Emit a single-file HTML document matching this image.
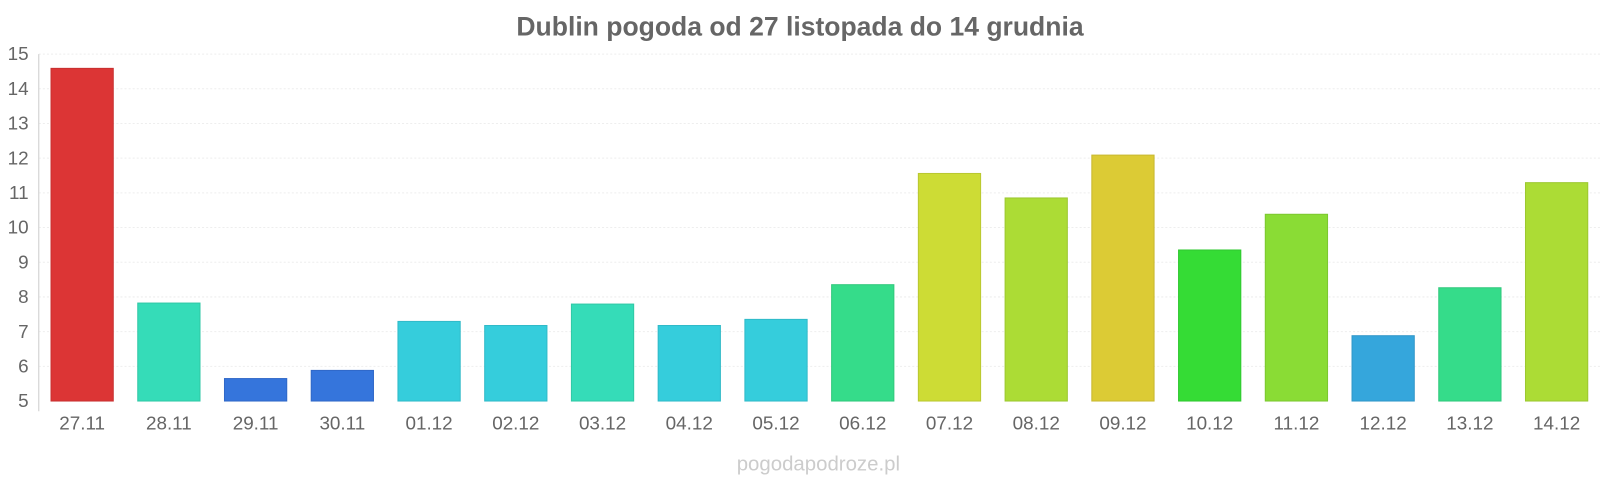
<!DOCTYPE html>
<html><head><meta charset="utf-8"><style>
body{margin:0;background:#fff;overflow:hidden}
svg text{font-family:"Liberation Sans",sans-serif}
</style></head><body>
<svg width="1600" height="480" xmlns="http://www.w3.org/2000/svg">
<g transform="scale(1.0204)">
<text x="784" y="35" text-anchor="middle" font-size="26" font-weight="bold" fill="#666">Dublin pogoda od 27 listopada do 14 grudnia</text>
<g stroke="#eee" stroke-dasharray="2,2" stroke-width="1">
<line x1="38" x2="1568" y1="53" y2="53"/><line x1="38" x2="1568" y1="87" y2="87"/>
<line x1="38" x2="1568" y1="121" y2="121"/><line x1="38" x2="1568" y1="155" y2="155"/>
<line x1="38" x2="1568" y1="189" y2="189"/><line x1="38" x2="1568" y1="223" y2="223"/>
<line x1="38" x2="1568" y1="257" y2="257"/><line x1="38" x2="1568" y1="291" y2="291"/>
<line x1="38" x2="1568" y1="325" y2="325"/><line x1="38" x2="1568" y1="359" y2="359"/>
</g>
<line x1="38" x2="38" y1="53" y2="403" stroke="#ccc"/>
<g font-size="18.5" fill="#666" text-anchor="end">
<text x="28" y="59">15</text><text x="28" y="93">14</text><text x="28" y="127">13</text>
<text x="28" y="161">12</text><text x="28" y="195">11</text><text x="28" y="229">10</text>
<text x="28" y="263">9</text><text x="28" y="297">8</text><text x="28" y="331">7</text>
<text x="28" y="365">6</text><text x="28" y="399">5</text>
</g>
<g stroke-width="1">
<rect x="50" y="67" width="61" height="326" fill="#dc3535" stroke="#c83030"/>
<rect x="135" y="297" width="61" height="96" fill="#35dcb8" stroke="#30c8a6"/>
<rect x="220" y="371" width="61" height="22" fill="#3575dc" stroke="#3068c8"/>
<rect x="305" y="363" width="61" height="30" fill="#3575dc" stroke="#3068c8"/>
<rect x="390" y="315" width="61" height="78" fill="#35cddc" stroke="#30bac8"/>
<rect x="475" y="319" width="61" height="74" fill="#35cddc" stroke="#30bac8"/>
<rect x="560" y="298" width="61" height="95" fill="#35dcb8" stroke="#30c8a6"/>
<rect x="645" y="319" width="61" height="74" fill="#35cddc" stroke="#30bac8"/>
<rect x="730" y="313" width="61" height="80" fill="#35cddc" stroke="#30bac8"/>
<rect x="815" y="279" width="61" height="114" fill="#35dc8a" stroke="#30c87c"/>
<rect x="900" y="170" width="61" height="223" fill="#cddc35" stroke="#bac830"/>
<rect x="985" y="194" width="61" height="199" fill="#acdc35" stroke="#9cc830"/>
<rect x="1070" y="152" width="61" height="241" fill="#dccb35" stroke="#c8b830"/>
<rect x="1155" y="245" width="61" height="148" fill="#35dc35" stroke="#30c830"/>
<rect x="1240" y="210" width="61" height="183" fill="#8adc35" stroke="#7cc830"/>
<rect x="1325" y="329" width="61" height="64" fill="#35a6dc" stroke="#3096c8"/>
<rect x="1410" y="282" width="61" height="111" fill="#35dc8a" stroke="#30c87c"/>
<rect x="1495" y="179" width="61" height="214" fill="#acdc35" stroke="#9cc830"/>
</g>
<g font-size="18.5" fill="#666" text-anchor="middle">
<text x="80.5" y="421">27.11</text><text x="165.5" y="421">28.11</text><text x="250.5" y="421">29.11</text>
<text x="335.5" y="421">30.11</text><text x="420.5" y="421">01.12</text><text x="505.5" y="421">02.12</text>
<text x="590.5" y="421">03.12</text><text x="675.5" y="421">04.12</text><text x="760.5" y="421">05.12</text>
<text x="845.5" y="421">06.12</text><text x="930.5" y="421">07.12</text><text x="1015.5" y="421">08.12</text>
<text x="1100.5" y="421">09.12</text><text x="1185.5" y="421">10.12</text><text x="1270.5" y="421">11.12</text>
<text x="1355.5" y="421">12.12</text><text x="1440.5" y="421">13.12</text><text x="1525.5" y="421">14.12</text>
</g>
<text x="802" y="461" text-anchor="middle" font-size="20" fill="#ccc">pogodapodroze.pl</text>
</g>
</svg>
</body></html>
